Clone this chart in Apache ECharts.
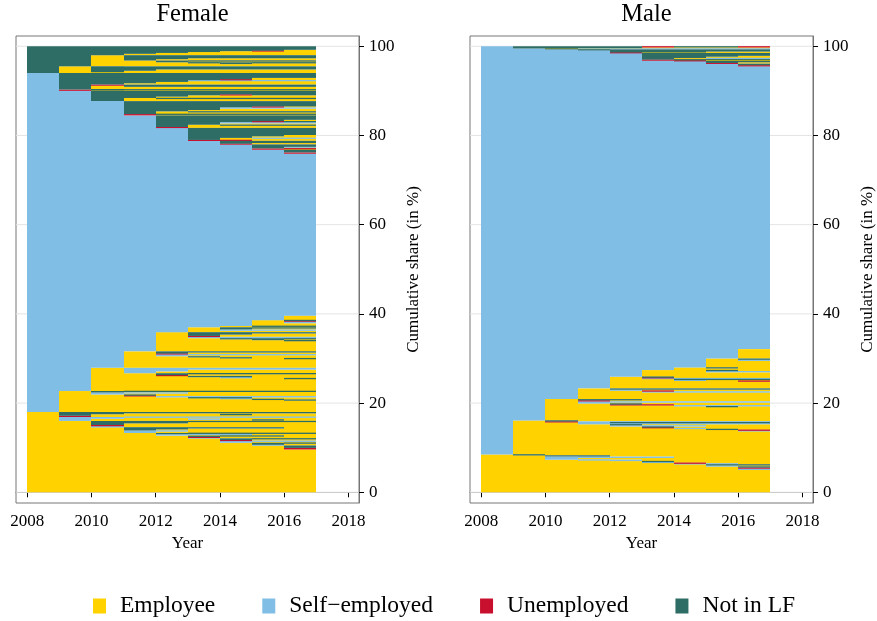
<!DOCTYPE html>
<html>
<head>
<meta charset="utf-8">
<script src="https://cdn.jsdelivr.net/npm/echarts@6/dist/echarts.min.js"></script>
<style>
  html, body { margin: 0; padding: 0; background: #ffffff; }
  #chart { width: 877px; height: 621px; }
</style>
</head>
<body>
<div id="chart"></div>
<script>
// Sequence index plot: each band is a group of identical yearly labour-market
// sequences (one letter per year, 2008-2016), stacked by cumulative share (%).
// E = employee, S = self-employed, U = unemployed, N = not in labour force.

const years = [2008, 2009, 2010, 2011, 2012, 2013, 2014, 2015, 2016];
const stateCodes = ['E', 'S', 'U', 'N'];
const stateNames = ['Employee', 'Self\u2212employed', 'Unemployed', 'Not in LF'];
const panelTitles = ['Female', 'Male'];
const xTicks = [2008, 2010, 2012, 2014, 2016, 2018];
const yTicks = [0, 20, 40, 60, 80, 100];

// [sequence, share in %]
const femaleSequences = [
  ['EEEEEEEEE', 9.6], ['EEEEEEEEU', 0.35], ['EEEEEEEEN', 0.55],
  ['EEEEEEESE', 0.15], ['EEEEEEENE', 0.3], ['EEEEEEENN', 0.15],
  ['EEEEEESEE', 0.25], ['EEEEEESSS', 0.2], ['EEEEEEUEE', 0.15], ['EEEEEENEE', 0.2], ['EEEEEENNN', 0.2],
  ['EEEEESEEE', 0.15], ['EEEEEUEEE', 0.15], ['EEEEENEEE', 0.15], ['EEEEENNNE', 0.15],
  ['EEEESEEEE', 0.2], ['EEEESSSEE', 0.1], ['EEEENEEEE', 0.15], ['EEEENNNNN', 0.15],
  ['EEESEEEEE', 0.35], ['EEESSEEEE', 0.2], ['EEENEEEEE', 0.25], ['EEENNEEEE', 0.2], ['EEENNNNNE', 0.3],
  ['EESEEEEEE', 0.2], ['EEUEEEEEE', 0.3], ['EENEEEEEE', 0.35], ['EENNNEEEE', 0.3], ['EENNNNNNN', 0.25],
  ['ESEEEEEEE', 0.15], ['ESEEEEENE', 0.15], ['ESEEESEEE', 0.2], ['ESSEEEEEE', 0.3], ['ESSSSSSSS', 0.1],
  ['EUEEEEEEE', 0.25], ['ENEEEEEEE', 0.2], ['ENEEEENEE', 0.15], ['ENNEEEEEE', 0.2], ['ENNNNNNNN', 0.3],

  ['SEEEEEEEE', 2.6], ['SEEEEEEEN', 0.15], ['SEEEEEENE', 0.15], ['SEEEEESEE', 0.2], ['SEEEENNEE', 0.2],
  ['SEEESSSSS', 0.25], ['SEEUEEEEE', 0.15], ['SEENEEEEE', 0.2], ['SESEEEEEE', 0.25], ['SESSSEEEE', 0.25],
  ['SENEEEEEE', 0.15], ['SENNNNNNN', 0.15],
  ['SSEEEEEEE', 2.7], ['SSEEEEEEN', 0.2], ['SSEEEESEE', 0.2], ['SSEEENNEE', 0.3], ['SSEEUEEEE', 0.15],
  ['SSEENEEEE', 0.25], ['SSEENNNNN', 0.2], ['SSESEEEEE', 0.4], ['SSESSEEEE', 0.4], ['SSESSSSSS', 0.4],
  ['SSSEEEEEE', 2.0], ['SSSEEEEEN', 0.15], ['SSSEEENEE', 0.2], ['SSSEENEEE', 0.25], ['SSSESEEEE', 0.25],
  ['SSSESSSSS', 0.2], ['SSSEUEEEE', 0.15], ['SSSENEEEE', 0.25], ['SSSENNNNN', 0.25],
  ['SSSSEEEEE', 2.3], ['SSSSEEEEN', 0.2], ['SSSSEEENE', 0.2], ['SSSSEENNN', 0.25], ['SSSSESSSS', 0.3],
  ['SSSSEUEEE', 0.2], ['SSSSENEEE', 0.3], ['SSSSENNEE', 0.25], ['SSSSENNNN', 0.3],
  ['SSSSSEEEE', 0.3], ['SSSSSESSS', 0.3], ['SSSSSENEE', 0.2], ['SSSSSENNN', 0.3],
  ['SSSSSSEEE', 0.15], ['SSSSSSENN', 0.15],
  ['SSSSSSSEE', 0.6], ['SSSSSSSES', 0.4], ['SSSSSSSEU', 0.15], ['SSSSSSSEN', 0.15],
  ['SSSSSSSSE', 1.0],
  ['SSSSSSSSS', 36.3],
  ['SSSSSSSSU', 0.3], ['SSSSSSSSN', 0.6],
  ['SSSSSSSUE', 0.15], ['SSSSSSSUU', 0.15], ['SSSSSSSNE', 0.2], ['SSSSSSSNS', 0.15], ['SSSSSSSNN', 0.55],
  ['SSSSSSUEE', 0.15], ['SSSSSSNEE', 0.15], ['SSSSSSNNN', 0.5],
  ['SSSSSUUEE', 0.2], ['SSSSSNEEE', 0.3], ['SSSSSNESS', 0.15], ['SSSSSNNEE', 0.35], ['SSSSSNNNE', 0.3],
  ['SSSSSNNNN', 1.6],
  ['SSSSUEEEE', 0.2], ['SSSSNEEEE', 0.3], ['SSSSNENNN', 0.2], ['SSSSNNEEE', 0.3], ['SSSSNNSSS', 0.3],
  ['SSSSNNNUN', 0.2], ['SSSSNNNNE', 0.3], ['SSSSNNNNN', 1.0],
  ['SSSUEEEEE', 0.2], ['SSSUNNNNN', 0.1], ['SSSNEEEEE', 0.4], ['SSSNENNNN', 0.2], ['SSSNNEEEE', 0.3],
  ['SSSNNNEEE', 0.3], ['SSSNNNSSS', 0.3], ['SSSNNNNUE', 0.2], ['SSSNNNNNN', 1.2],
  ['SSNEEEEEE', 0.5], ['SSNENNNNN', 0.2], ['SSNNEEEEE', 0.3], ['SSNNNEEEE', 0.3], ['SSNNNNUNN', 0.2],
  ['SSNNNNNNN', 0.8],
  ['SUEEEEEEE', 0.2], ['SUNNNNNNN', 0.1], ['SNEEEEEEE', 0.6], ['SNENNNNNN', 0.3], ['SNUNNNNNN', 0.2],
  ['SNNEEEEEE', 0.3], ['SNNNEEEEE', 0.3], ['SNNNNEEEE', 0.2], ['SNNNNSSSS', 0.2], ['SNNNNNUEE', 0.2],
  ['SNNNNNNEE', 0.3], ['SNNNNNNNN', 1.1],

  ['NEEEEEEEE', 0.2], ['NENEEEEEE', 0.3], ['NENNEEEEE', 0.3], ['NENNNNNNN', 0.7],
  ['NNEEEEEEE', 0.5], ['NNEEEENEE', 0.2], ['NNEEENNNN', 0.2], ['NNEENEEEE', 0.2], ['NNEENNNNN', 0.2],
  ['NNENEEEEE', 0.3], ['NNENNEEEE', 0.2], ['NNENNNNNN', 0.7],
  ['NNNEEEEEE', 0.3], ['NNNNEEEEE', 0.2], ['NNNNNEEEE', 0.2], ['NNNNNNEEE', 0.2], ['NNNNNNNUE', 0.1],
  ['NNNNNNNNE', 0.2], ['NNNNNNNNN', 0.8]
];

const maleSequences = [
  ['EEEEEEEEE', 5.0], ['EEEEEEEES', 0.3], ['EEEEEEEEU', 0.25], ['EEEEEEEEN', 0.25],
  ['EEEEEEESE', 0.2], ['EEEEEEENN', 0.3], ['EEEEEESSE', 0.15], ['EEEEEEUEE', 0.15],
  ['EEEEESEEE', 0.2], ['EEEEENEEE', 0.2], ['EEEESEEEE', 0.2], ['EEESSEEEE', 0.1],
  ['EESEEEEEE', 0.4], ['EESSSSEEE', 0.3], ['EENNEEEEE', 0.3], ['ENEEEEEEE', 0.2],

  ['SEEEEEEEE', 5.2], ['SEEEEEEES', 0.15], ['SEEEEEEEU', 0.15], ['SEEEEEENE', 0.2], ['SEEEEESEE', 0.2],
  ['SEEEEUEEE', 0.15], ['SEEEENEEE', 0.2], ['SEEESSSEE', 0.3], ['SEEENEEEE', 0.2], ['SEESNNNNN', 0.15],
  ['SEESSSSSS', 0.3], ['SEUSSSSSS', 0.2], ['SENEEEEEE', 0.2],
  ['SSEEEEEEE', 3.0], ['SSEEEEENE', 0.2], ['SSEEEESSS', 0.2], ['SSEEUUEEE', 0.2], ['SSEENEEEE', 0.2],
  ['SSESEEEEE', 0.2], ['SSESSSSSS', 0.3], ['SSEUEEEEE', 0.2], ['SSENNEEEE', 0.3],
  ['SSSEEEEEE', 1.5], ['SSSEEUEEE', 0.2], ['SSSEESSSS', 0.2], ['SSSESEEEE', 0.2], ['SSSENNNNN', 0.3],
  ['SSSSEEEEE', 1.55], ['SSSSEEEEU', 0.15], ['SSSSEESEE', 0.2], ['SSSSEENNN', 0.2], ['SSSSESSSS', 0.2],
  ['SSSSEUEEE', 0.15], ['SSSSENEEE', 0.15],
  ['SSSSSEEEE', 1.0], ['SSSSSEENE', 0.2], ['SSSSSEESS', 0.3],
  ['SSSSSSEEE', 0.4], ['SSSSSSENE', 0.2],
  ['SSSSSSSEE', 1.5], ['SSSSSSSES', 0.2], ['SSSSSSSEN', 0.3],
  ['SSSSSSSSE', 2.1],
  ['SSSSSSSSS', 63.4],
  ['SSSSSSSSU', 0.25], ['SSSSSSSSN', 0.35],
  ['SSSSSSSUE', 0.15], ['SSSSSSSNE', 0.15], ['SSSSSSSNN', 0.3],
  ['SSSSSSUEE', 0.1],
  ['SSSSSUEEE', 0.15], ['SSSSSUNNN', 0.05], ['SSSSSNEEE', 0.2], ['SSSSSNESS', 0.15], ['SSSSSNNEE', 0.3],
  ['SSSSSNNNE', 0.2], ['SSSSSNNNN', 0.65],
  ['SSSSUEEEE', 0.1], ['SSSSNNNEE', 0.2], ['SSSSNNNNN', 0.3],
  ['SSSNNNNNN', 0.2],
  ['SSNSSSSSS', 0.2],
  ['SNEEEEEEE', 0.1], ['SNNNNEEEE', 0.15], ['SNNNNUNNU', 0.25]
];

const stateColors = ['#FFD200', '#80BEE6', '#C8102E', '#2E6D65'];
const serifFont = 'Liberation Serif';

// Sort sequences (E < S < U < N, year by year), stack them by share and
// merge vertically adjacent cells with the same state in each year column.
function buildCells(sequences) {
  const rank = s => s.split('').map(c => stateCodes.indexOf(c));
  const sorted = sequences.slice().sort((a, b) => {
    const ra = rank(a[0]), rb = rank(b[0]);
    for (let i = 0; i < ra.length; i++) {
      if (ra[i] !== rb[i]) return ra[i] - rb[i];
    }
    return 0;
  });
  let cum = 0;
  const rows = sorted.map(([code, share]) => {
    const r = { code: code, lo: cum, hi: cum + share };
    cum += share;
    return r;
  });
  const cells = stateCodes.map(() => []);
  years.forEach((yr, t) => {
    let i = 0;
    while (i < rows.length) {
      const st = rows[i].code[t];
      let j = i;
      while (j + 1 < rows.length && rows[j + 1].code[t] === st) j++;
      cells[stateCodes.indexOf(st)].push([yr, yr + 1, rows[i].lo, rows[j].hi]);
      i = j + 1;
    }
  });
  return cells;
}

// One year-column cell; column edges are snapped to whole pixels so that
// neighbouring years join without seams, and very thin bands keep a
// minimum drawn thickness like a plotted line.
function renderCell(params, api) {
  const a = api.coord([api.value(0), api.value(3)]);
  const b = api.coord([api.value(1), api.value(2)]);
  const x0 = Math.round(a[0]), x1 = Math.round(b[0]);
  let y0 = a[1], h = b[1] - a[1];
  const minH = 1.3;
  if (h < minH) {
    y0 = y0 + h / 2 - minH / 2;
    h = minH;
  }
  return {
    type: 'rect',
    shape: { x: x0, y: y0, width: x1 - x0, height: h },
    style: { fill: api.visual('color') }
  };
}

function renderGridLine(params, api) {
  const cs = params.coordSys;
  const y = api.coord([years[0], api.value(0)])[1];
  return {
    type: 'line',
    shape: { x1: cs.x, y1: y, x2: cs.x + cs.width, y2: y },
    style: { stroke: '#e4e4e4', lineWidth: 1 }
  };
}

const panels = [buildCells(femaleSequences), buildCells(maleSequences)];
const gridLefts = [16, 470];

const grids = [], xAxes = [], yAxes = [], titles = [], series = [];
panels.forEach((cells, p) => {
  grids.push({
    left: gridLefts[p], top: 36, width: 343, height: 467,
    show: true, borderColor: '#767676', borderWidth: 1, backgroundColor: 'transparent'
  });
  titles.push({
    text: panelTitles[p],
    left: gridLefts[p] + 171.5, top: -3, textAlign: 'center',
    textStyle: { fontFamily: serifFont, fontSize: 24.5, fontWeight: 'normal', color: '#000' }
  });
  xAxes.push({
    type: 'value', gridIndex: p, min: 2007.65, max: 2018.33,
    name: 'Year', nameLocation: 'middle', nameGap: 31,
    nameTextStyle: { fontFamily: serifFont, fontSize: 17, color: '#000' },
    axisLine: { show: true, lineStyle: { color: '#767676', width: 1 } },
    axisTick: { show: true, customValues: xTicks, length: 5, lineStyle: { color: '#000', width: 1 } },
    axisLabel: {
      customValues: xTicks, margin: 10, formatter: v => String(v),
      fontFamily: serifFont, fontSize: 17, color: '#000'
    },
    splitLine: { show: false }
  });
  yAxes.push({
    type: 'value', gridIndex: p, position: 'right', min: -2.4, max: 102.3,
    name: 'Cumulative share (in %)', nameLocation: 'middle', nameRotate: 90, nameGap: 46,
    nameTextStyle: { fontFamily: serifFont, fontSize: 17, color: '#000' },
    axisLine: { show: true, lineStyle: { color: '#767676', width: 1 } },
    axisTick: { show: true, customValues: yTicks, length: 5, lineStyle: { color: '#000', width: 1 } },
    axisLabel: {
      customValues: yTicks, margin: 10, formatter: v => String(v),
      fontFamily: serifFont, fontSize: 17, color: '#000'
    },
    splitLine: { show: false }
  });
  series.push({
    type: 'custom', name: 'grid-' + p, xAxisIndex: p, yAxisIndex: p, silent: true, z: 1,
    data: yTicks.map(v => [v]), encode: { y: [0] }, renderItem: renderGridLine
  });
  cells.forEach((list, k) => {
    series.push({
      type: 'custom', name: stateNames[k], xAxisIndex: p, yAxisIndex: p, silent: true, z: 2,
      itemStyle: { color: stateColors[k] },
      data: list, encode: { x: [0, 1], y: [2, 3] }, renderItem: renderCell
    });
  });
});

const chart = echarts.init(document.getElementById('chart'), null, { renderer: 'canvas' });
chart.setOption({
  animation: false,
  color: stateColors,
  title: titles,
  grid: grids,
  xAxis: xAxes,
  yAxis: yAxes,
  legend: {
    data: stateNames, left: 88, top: 589, icon: 'rect',
    itemWidth: 13, itemHeight: 15, itemGap: 47, selectedMode: false,
    textStyle: { fontFamily: serifFont, fontSize: 23.5, color: '#000', padding: [0, 0, 0, 9] }
  },
  series: series
});
</script>
</body>
</html>
